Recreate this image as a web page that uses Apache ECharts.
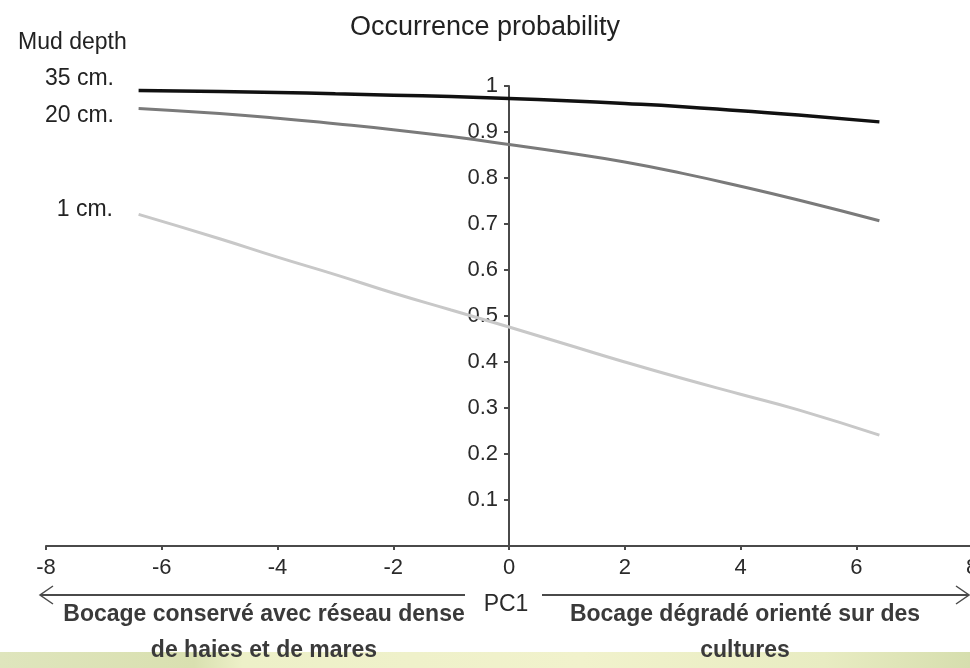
<!DOCTYPE html>
<html>
<head>
<meta charset="utf-8">
<script src="https://cdn.jsdelivr.net/npm/echarts@6/dist/echarts.min.js"></script>
<style>
html,body{margin:0;padding:0;background:#fff;}
#chart{width:970px;height:668px;}
</style>
</head>
<body>
<div id="chart"></div>
<script>
// PC1 positions at which the curves were read
const pcValues = [-6.4, -5, -4, -3, -2, -1, 0, 1, 2, 3, 4, 5, 6.4];
// Occurrence probability per mud depth
const mud35 = [0.990, 0.988, 0.986, 0.983, 0.980, 0.977, 0.973, 0.968, 0.962, 0.955, 0.946, 0.937, 0.922];
const mud20 = [0.951, 0.940, 0.930, 0.918, 0.905, 0.890, 0.873, 0.855, 0.835, 0.810, 0.782, 0.752, 0.707];
const mud1  = [0.721, 0.668, 0.628, 0.590, 0.550, 0.513, 0.476, 0.438, 0.400, 0.364, 0.330, 0.296, 0.241];
const seriesNames = ['35 cm.', '20 cm.', '1 cm.'];
const xMin = -8, xMax = 8, xStep = 2;
const yMin = 0, yMax = 1, yStep = 0.1;

const pairs = arr => pcValues.map((x, i) => [x, arr[i]]);
const FONT = '"Liberation Sans", Arial, sans-serif';

const gridLeft = 46, gridWidth = 926, gridTop = 86, gridHeight = 460;
// place the vertical axis at PC1 = 0
const yAxisOffset = -gridWidth * (0 - xMin) / (xMax - xMin);

const chart = echarts.init(document.getElementById('chart'), null, {renderer: 'canvas'});

const option = {
  animation: false,
  backgroundColor: '#ffffff',
  grid: {left: gridLeft, width: gridWidth, top: gridTop, height: gridHeight,
    containLabel: false, outerBoundsMode: 'none'},
  xAxis: {
    type: 'value', min: xMin, max: xMax, interval: xStep,
    axisLine: {show: true, onZero: true, lineStyle: {color: '#4a4a4a', width: 2}},
    axisTick: {show: true, inside: false, length: 4, lineStyle: {color: '#4a4a4a', width: 2}},
    axisLabel: {show: true, margin: 11, fontSize: 22, color: '#2a2a2a', fontFamily: FONT,
      hideOverlap: false, formatter: v => String(v)},
    splitLine: {show: false}
  },
  yAxis: {
    type: 'value', min: yMin, max: yMax, interval: yStep, position: 'left', offset: yAxisOffset,
    axisLine: {show: true, onZero: false, lineStyle: {color: '#4a4a4a', width: 2}},
    axisTick: {show: true, inside: false, length: 5, lineStyle: {color: '#4a4a4a', width: 2}},
    axisLabel: {show: true, margin: 11, fontSize: 22, color: '#2a2a2a', fontFamily: FONT,
      formatter: v => (Math.abs(v) < 1e-9 ? '' : String(Math.round(v * 10) / 10))},
    splitLine: {show: false}
  },
  series: [
    {name: seriesNames[0], type: 'line', data: pairs(mud35), smooth: true, showSymbol: false,
      lineStyle: {color: '#111111', width: 3.5}, z: 5},
    {name: seriesNames[1], type: 'line', data: pairs(mud20), smooth: true, showSymbol: false,
      lineStyle: {color: '#7a7a7a', width: 3}, z: 4},
    {name: seriesNames[2], type: 'line', data: pairs(mud1), smooth: true, showSymbol: false,
      lineStyle: {color: '#c8c8c8', width: 3}, z: 3}
  ],
  graphic: [
    // bottom decorative band
    {type: 'rect', left: 0, top: 652, shape: {width: 970, height: 16}, z: 0, silent: true,
      style: {fill: new echarts.graphic.LinearGradient(0, 0, 1, 0, [
        {offset: 0, color: '#dfe5bd'},
        {offset: 0.2, color: '#d9e0b0'},
        {offset: 0.25, color: '#edf0c8'},
        {offset: 0.6, color: '#f1f2cc'},
        {offset: 0.85, color: '#e8ecc2'},
        {offset: 1, color: '#d6deae'}
      ])}},
    // title
    {type: 'text', left: 'center', top: 14, z: 10,
      style: {text: 'Occurrence probability', font: '27px ' + FONT, fill: '#222'}},
    {type: 'text', x: 18, y: 43, z: 10,
      style: {text: 'Mud depth', font: '23px ' + FONT, fill: '#222', verticalAlign: 'middle', align: 'left'}},
    {type: 'text', x: 114, y: 79, z: 10,
      style: {text: seriesNames[0], font: '23px ' + FONT, fill: '#222', verticalAlign: 'middle', align: 'right'}},
    {type: 'text', x: 114, y: 116, z: 10,
      style: {text: seriesNames[1], font: '23px ' + FONT, fill: '#222', verticalAlign: 'middle', align: 'right'}},
    {type: 'text', x: 113, y: 210, z: 10,
      style: {text: seriesNames[2], font: '23px ' + FONT, fill: '#222', verticalAlign: 'middle', align: 'right'}},
    // PC1 arrows
    {type: 'polyline', z: 10, silent: true, shape: {points: [[40, 595], [465, 595]]},
      style: {stroke: '#4a4a4a', lineWidth: 2, fill: null}},
    {type: 'polyline', z: 10, silent: true, shape: {points: [[53, 586], [40, 595], [53, 604]]},
      style: {stroke: '#4a4a4a', lineWidth: 1.5, fill: null}},
    {type: 'polyline', z: 10, silent: true, shape: {points: [[542, 595], [968, 595]]},
      style: {stroke: '#4a4a4a', lineWidth: 2, fill: null}},
    {type: 'polyline', z: 10, silent: true, shape: {points: [[956, 586], [969, 595], [956, 604]]},
      style: {stroke: '#4a4a4a', lineWidth: 1.5, fill: null}},
    {type: 'text', x: 506, y: 605, z: 10,
      style: {text: 'PC1', font: '23px ' + FONT, fill: '#2a2a2a', verticalAlign: 'middle', align: 'center'}},
    // descriptive captions
    {type: 'text', x: 264, y: 615, z: 10,
      style: {text: 'Bocage conservé avec réseau dense', font: 'bold 23px ' + FONT, fill: '#3a3a3a', verticalAlign: 'middle', align: 'center'}},
    {type: 'text', x: 264, y: 651, z: 10,
      style: {text: 'de haies et de mares', font: 'bold 23px ' + FONT, fill: '#3a3a3a', verticalAlign: 'middle', align: 'center'}},
    {type: 'text', x: 745, y: 615, z: 10,
      style: {text: 'Bocage dégradé orienté sur des', font: 'bold 23px ' + FONT, fill: '#3a3a3a', verticalAlign: 'middle', align: 'center'}},
    {type: 'text', x: 745, y: 651, z: 10,
      style: {text: 'cultures', font: 'bold 23px ' + FONT, fill: '#3a3a3a', verticalAlign: 'middle', align: 'center'}}
  ]
};
chart.setOption(option);
</script>
</body>
</html>
